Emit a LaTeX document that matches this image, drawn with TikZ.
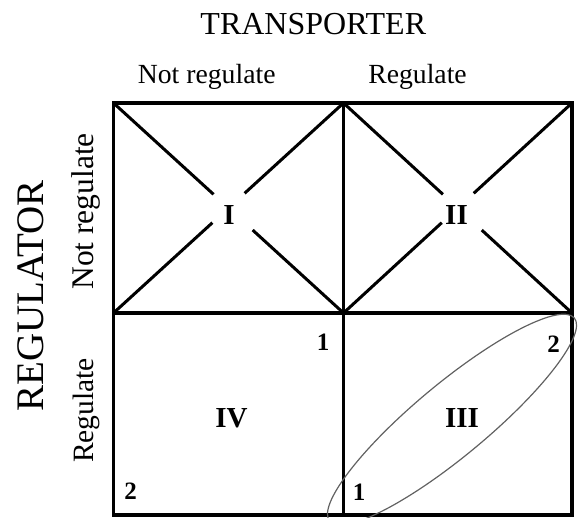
\documentclass[tikz,border=0pt]{standalone}
\usepackage{fontspec}
\setmainfont{Liberation Serif}
\usetikzlibrary{calc}
\begin{document}
\begin{tikzpicture}[x=1pt,y=-1pt,
  frame/.style={line width=3.3pt,line join=miter},
  crossline/.style={line width=3pt},
  ring/.style={draw=black!62,line width=1.2pt},
  heading/.style={inner sep=0pt,anchor=base,font=\fontsize{#1}{#1}\selectfont},
  numeral/.style={inner sep=0pt,anchor=base,font=\bfseries\fontsize{29}{29}\selectfont},
  corner/.style={inner sep=0pt,anchor=base,font=\bfseries\fontsize{25}{25}\selectfont}]
\useasboundingbox (0,0) rectangle (580,518);

% grid points
\coordinate (tl) at (113.5,103);
\coordinate (tm) at (343.5,103);
\coordinate (tr) at (572,103);
\coordinate (ml) at (113.5,313);
\coordinate (mm) at (343.5,313);
\coordinate (mr) at (572,313);
\coordinate (bl) at (113.5,515);
\coordinate (bm) at (343.5,515);
\coordinate (br) at (572,515);
\coordinate (c1) at ($(tl)!0.5!(mm)$);
\coordinate (c2) at ($(tm)!0.5!(mr)$);

% broken diagonals in the upper cells
\foreach \c/\a/\b/\d/\e in {c1/tl/tm/ml/mm, c2/tm/tr/mm/mr}{
  \draw[crossline] (\a) -- ($(\a)!0.87!(\c)$);
  \draw[crossline] (\b) -- ($(\b)!0.86!(\c)$);
  \draw[crossline] (\d) -- ($(\d)!0.86!(\c)$);
  \draw[crossline] (\e) -- ($(\e)!0.79!(\c)$);
}

% outer frame and dividers
\draw[frame] (tl) rectangle (br);
\draw[frame] (tm) -- (bm);
\draw[frame] (ml) -- (mr);

% ellipse around cell III
\draw[ring] (452,419.6) ellipse [x radius=159pt, y radius=36.4pt, rotate=39.7];

% axis titles
\node[heading=32] (transporter) at (313.3,35) {TRANSPORTER};
\node[heading=27.7] (tnot) at (206.7,83.3) {Not regulate};
\node[heading=27.7] (treg) at (417.5,83.3) {Regulate};
\node[heading=39,rotate=90] (regulator) at (43.3,296) {REGULATOR};
\node[heading=31.5,rotate=90] (rnot) at (93.5,211.4) {Not regulate};
\node[heading=29.5,rotate=90] (rreg) at (93.5,410.5) {Regulate};

% cell labels
\node[numeral] (qI) at (229,225) {I};
\node[numeral] (qII) at (456.5,225) {II};
\node[numeral] (qIII) at (462,427) {III};
\node[numeral] (qIV) at (231.5,427) {IV};

% corner numbers
\node[corner] (n1a) at (323,350) {1};
\node[corner] (n2a) at (553.5,352) {2};
\node[corner] (n1b) at (359,500) {1};
\node[corner] (n2b) at (130.5,499) {2};
\end{tikzpicture}
\end{document}
